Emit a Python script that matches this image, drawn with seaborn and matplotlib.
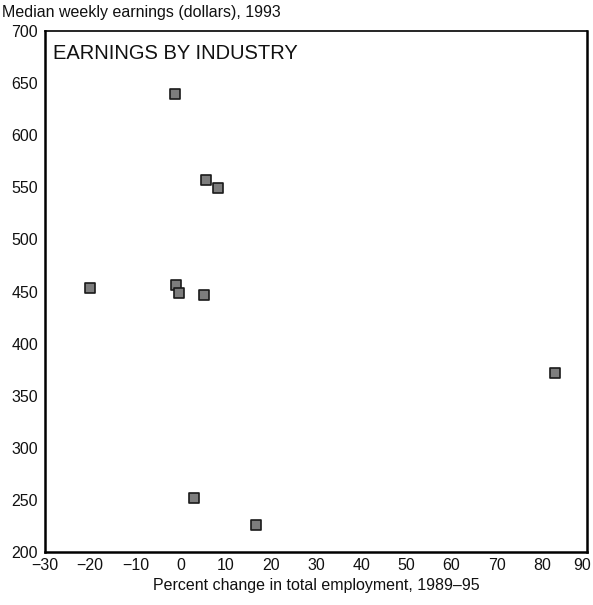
import matplotlib
matplotlib.use("Agg")
import matplotlib.pyplot as plt
import matplotlib.transforms as mtransforms
import pandas as pd
import seaborn as sns

# percent change in employment 1989-95 vs median weekly earnings 1993
pct_change = [-20.0, -1.3, 5.7, 8.4, -1.1, -0.3, 5.3, 3.0, 16.8, 83.0]
earnings = [453, 640, 557, 549, 456, 449, 447, 252, 226, 372]
x_ticks = list(range(-30, 91, 10))
y_ticks = list(range(200, 701, 50))

df = pd.DataFrame({"pct": pct_change, "earn": earnings})

sns.set_style("white")
plt.rcParams["font.family"] = ["Liberation Sans", "DejaVu Sans"]
plt.rcParams["text.color"] = "#111111"
plt.rcParams["axes.labelcolor"] = "#111111"
plt.rcParams["xtick.color"] = "black"
plt.rcParams["ytick.color"] = "black"
plt.rcParams["xtick.labelcolor"] = "#111111"
plt.rcParams["ytick.labelcolor"] = "#111111"

fig = plt.figure(figsize=(5.93, 6.05), dpi=100)
ax = fig.add_axes([0.0759, 0.0876, 0.914, 0.861])

sns.scatterplot(data=df, x="pct", y="earn", ax=ax, marker="s", s=60,
                color="#7d7d7d", edgecolor="#1a1a1a", linewidth=1.2)

ax.set_xlim(-30, 90)
ax.set_ylim(200, 700)
ax.set_xticks(x_ticks)
ax.set_yticks(y_ticks)
ax.set_xticklabels([str(t).replace("-", "\u2212") for t in x_ticks])
ax.tick_params(axis="x", direction="in", length=15, width=2, labelsize=11.5, pad=4)
ax.tick_params(axis="y", direction="in", length=12, width=1.5, labelsize=11.5, pad=5)
ax.set_xlabel("Percent change in total employment, 1989\u201395", fontsize=11.5, labelpad=4)
ax.set_ylabel("")
for sp in ax.spines.values():
    sp.set_color("black")
    sp.set_linewidth(1.8)
ax.spines["top"].set_linewidth(1.2)

# nudge the last x label so it stays inside the figure
last = ax.get_xticklabels()[-1]
last.set_transform(last.get_transform() +
                   mtransforms.ScaledTranslation(-5 / 100, 0, fig.dpi_scale_trans))

ax.text(0.015, 0.975, "EARNINGS BY INDUSTRY", transform=ax.transAxes,
        fontsize=14.5, va="top", ha="left")
fig.text(0.004, 0.979, "Median weekly earnings (dollars), 1993", fontsize=11.5,
         va="center", ha="left")

fig.savefig("out.png", dpi=100)
